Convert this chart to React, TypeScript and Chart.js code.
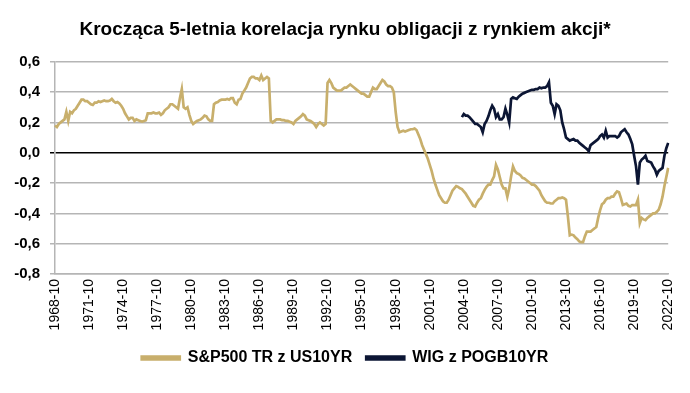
import React, { useEffect, useRef } from "react";
import { Chart, registerables } from "chart.js";

Chart.register(...registerables);

const TITLE = "Krocząca 5-letnia korelacja rynku obligacji z rynkiem akcji*";
const SERIES_NAMES = ["S&P500 TR z US10YR", "WIG z POGB10YR"];
const START_YEAR = 1968;
const START_MONTH = 10;
const STEP_MONTHS = 2;
const TICK_EVERY_MONTHS = 36;
const WIG_START = "2004-08";
const Y_TICKS = [-0.8, -0.6, -0.4, -0.2, 0, 0.2, 0.4, 0.6];

// S&P500 TR vs US10YR, every 2 months from 1968-10 to 2022-10
const SP500 = [
  0.18, 0.17, 0.19, 0.2, 0.21, 0.22,
  0.27, 0.21, 0.27, 0.26, 0.28, 0.29,
  0.31, 0.33, 0.35, 0.35, 0.34, 0.34,
  0.33, 0.32, 0.315, 0.33, 0.33, 0.34,
  0.335, 0.34, 0.345, 0.34, 0.34, 0.345,
  0.355, 0.34, 0.33, 0.335, 0.325, 0.31,
  0.29, 0.26, 0.24, 0.22, 0.23, 0.23,
  0.21, 0.22, 0.215, 0.21, 0.205, 0.21,
  0.215, 0.26, 0.26, 0.26, 0.265, 0.26,
  0.26, 0.265, 0.25, 0.26, 0.28, 0.29,
  0.3, 0.32, 0.32, 0.31, 0.3, 0.29,
  0.36, 0.42, 0.3, 0.29, 0.3, 0.25,
  0.21, 0.19, 0.2, 0.21, 0.215, 0.22,
  0.23, 0.245, 0.24, 0.22, 0.21, 0.21,
  0.32, 0.33, 0.335, 0.345, 0.35, 0.35,
  0.35, 0.355, 0.35, 0.36, 0.36, 0.33,
  0.32, 0.35, 0.355, 0.39, 0.41, 0.43,
  0.46, 0.49, 0.5, 0.5, 0.49, 0.49,
  0.48, 0.51, 0.48, 0.49, 0.5, 0.49,
  0.21, 0.2, 0.21, 0.22, 0.22, 0.22,
  0.215, 0.215, 0.21, 0.21, 0.205, 0.2,
  0.19, 0.21, 0.22, 0.23, 0.24, 0.255,
  0.245, 0.22, 0.215, 0.21, 0.2, 0.19,
  0.17, 0.19, 0.2, 0.19, 0.18, 0.19,
  0.46, 0.48, 0.46, 0.43, 0.42, 0.41,
  0.41, 0.41, 0.42, 0.43, 0.43, 0.44,
  0.45, 0.44, 0.43, 0.42, 0.41, 0.4,
  0.39, 0.39, 0.38, 0.37, 0.37, 0.4,
  0.43, 0.42, 0.42, 0.44, 0.46, 0.48,
  0.47, 0.45, 0.44, 0.44, 0.43, 0.4,
  0.27, 0.17, 0.135, 0.14, 0.145, 0.14,
  0.145, 0.15, 0.155, 0.155, 0.16, 0.15,
  0.12, 0.09, 0.05, 0.02, -0.01, -0.04,
  -0.08, -0.12, -0.17, -0.21, -0.245, -0.28,
  -0.3, -0.32, -0.33, -0.33, -0.31, -0.28,
  -0.25, -0.235, -0.22, -0.225, -0.235, -0.24,
  -0.255, -0.27, -0.29, -0.31, -0.33, -0.35,
  -0.355, -0.33, -0.31, -0.3, -0.27, -0.245,
  -0.225, -0.21, -0.21, -0.18, -0.155, -0.08,
  -0.11, -0.16, -0.21, -0.235, -0.235, -0.29,
  -0.235, -0.155, -0.09, -0.12, -0.135, -0.14,
  -0.15, -0.165, -0.17, -0.18, -0.19, -0.2,
  -0.21, -0.21, -0.22, -0.235, -0.25, -0.28,
  -0.3, -0.32, -0.33, -0.33, -0.335, -0.335,
  -0.32, -0.31, -0.3, -0.3, -0.295, -0.3,
  -0.31, -0.42, -0.545, -0.54, -0.545, -0.56,
  -0.57, -0.585, -0.59, -0.59, -0.55, -0.52,
  -0.52, -0.52, -0.51, -0.5, -0.49, -0.43,
  -0.38, -0.34, -0.33, -0.31, -0.3, -0.3,
  -0.29, -0.29, -0.27, -0.255, -0.26, -0.3,
  -0.345, -0.34, -0.335, -0.35, -0.355, -0.345,
  -0.345, -0.345, -0.31, -0.465, -0.43, -0.44,
  -0.445, -0.43, -0.42, -0.41, -0.4, -0.4,
  -0.39, -0.375, -0.34, -0.29, -0.22, -0.16,
  -0.1,
];

// WIG vs POGB10YR, every 2 months from 2004-08 to 2022-10
const WIG = [
  0.235, 0.255, 0.245, 0.245, 0.235, 0.22,
  0.205, 0.19, 0.19, 0.18, 0.17, 0.135,
  0.19, 0.21, 0.24, 0.28, 0.31, 0.29,
  0.235, 0.255, 0.22, 0.22, 0.235, 0.29,
  0.25, 0.2, 0.355, 0.365, 0.36, 0.355,
  0.37, 0.38, 0.39, 0.395, 0.4, 0.405,
  0.41, 0.415, 0.415, 0.42, 0.42, 0.43,
  0.425, 0.43, 0.43, 0.44, 0.465, 0.33,
  0.31, 0.255, 0.32, 0.31, 0.28, 0.2,
  0.155, 0.1, 0.09, 0.08, 0.085, 0.09,
  0.08, 0.08, 0.065, 0.055, 0.045, 0.035,
  0.025, 0.01, 0.05, 0.06, 0.07, 0.08,
  0.09, 0.11, 0.12, 0.1, 0.145, 0.1,
  0.11, 0.11, 0.11, 0.11, 0.1, 0.11,
  0.135, 0.145, 0.155, 0.135, 0.12, 0.09,
  0.055, -0.02, -0.09, -0.21, -0.065, -0.045,
  -0.035, -0.02, -0.055, -0.06, -0.065, -0.09,
  -0.11, -0.145, -0.12, -0.11, -0.1, -0.02,
  0.03, 0.065,
];

const GOLD = "#C8AF6C";
const NAVY = "#0C1634";
const FONT = "'Liberation Sans', Arial, sans-serif";

function buildLabels(n: number): string[] {
  const out: string[] = [];
  for (let i = 0; i < n; i++) {
    const t = START_YEAR * 12 + (START_MONTH - 1) + i * STEP_MONTHS;
    const y = Math.floor(t / 12);
    const m = (t % 12) + 1;
    out.push(`${y}-${m < 10 ? "0" + m : m}`);
  }
  return out;
}

export default function App() {
  const ref = useRef<HTMLCanvasElement | null>(null);

  useEffect(() => {
    if (!ref.current) return;
    const labels = buildLabels(SP500.length);
    const wigStart = labels.indexOf(WIG_START);
    const wigData: (number | null)[] = labels.map((_, i) =>
      i >= wigStart && i - wigStart < WIG.length ? WIG[i - wigStart] : null
    );
    const tickStep = TICK_EVERY_MONTHS / STEP_MONTHS;

    const chart = new Chart(ref.current, {
      type: "line",
      data: {
        labels,
        datasets: [
          {
            label: SERIES_NAMES[0],
            data: SP500,
            borderColor: GOLD,
            backgroundColor: GOLD,
            borderWidth: 2.7,
            pointRadius: 0,
            tension: 0,
          },
          {
            label: SERIES_NAMES[1],
            data: wigData,
            borderColor: NAVY,
            backgroundColor: NAVY,
            borderWidth: 2.7,
            pointRadius: 0,
            tension: 0,
            spanGaps: false,
          },
        ],
      },
      options: {
        responsive: false,
        animation: false,
        events: [],
        layout: { padding: { left: 0, right: 0, top: 0, bottom: 17 } },
        plugins: {
          title: {
            display: true,
            text: TITLE,
            color: "#000",
            font: { family: FONT, size: 19, weight: "bold" },
            padding: { top: 18, bottom: 21 },
          },
          legend: {
            display: true,
            position: "bottom",
            labels: {
              color: "#000",
              font: { family: FONT, size: 16, weight: "bold" },
              boxWidth: 38,
              boxHeight: 3,
              padding: 14,
            },
          },
          tooltip: { enabled: false },
        },
        scales: {
          x: {
            type: "category",
            grid: { display: false, drawTicks: false },
            border: { display: true, color: "#b5b5b5", width: 1.5 },
            ticks: {
              autoSkip: false,
              minRotation: 90,
              maxRotation: 90,
              padding: 5,
              color: "#000",
              font: { family: FONT, size: 14 },
              callback: (_v: any, index: number) =>
                index % tickStep === 0 ? labels[index] : null,
            },
            afterFit: (s: any) => {
              s.height = 62;
            },
          },
          y: {
            type: "linear",
            min: Y_TICKS[0],
            max: Y_TICKS[Y_TICKS.length - 1],
            afterBuildTicks: (s: any) => {
              s.ticks = Y_TICKS.map((v) => ({ value: v }));
            },
            grid: {
              color: (ctx: any) =>
                ctx.tick && Math.abs(ctx.tick.value) < 1e-9 ? "#000" : "#b5b5b5",
              lineWidth: 1.5,
              tickLength: 5,
              drawTicks: true,
            },
            border: { display: true, color: "#b5b5b5", width: 1.5 },
            ticks: {
              padding: 10,
              color: "#000",
              font: { family: FONT, size: 15, weight: "bold" },
              callback: (v: any) => {
                const n = Math.abs(v) < 1e-9 ? 0 : Number(v);
                return n.toFixed(1).replace(".", ",");
              },
            },
            afterFit: (s: any) => {
              s.width = 55;
            },
          },
          yR: {
            type: "linear",
            position: "right",
            display: true,
            grid: { display: false, drawTicks: false },
            border: { display: false },
            ticks: { display: false },
            afterFit: (s: any) => {
              s.width = 20;
            },
          },
        },
      },
    });
    return () => chart.destroy();
  }, []);

  return (
    <div style={{ position: "absolute", left: 0, top: 0, width: 690, height: 393, background: "#fff" }}>
      <canvas ref={ref} width={690} height={393} style={{ display: "block" }} />
    </div>
  );
}
